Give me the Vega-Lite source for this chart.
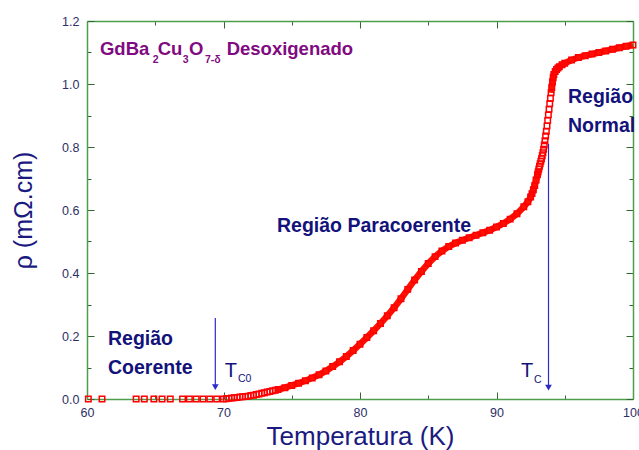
{
  "$schema": "https://vega.github.io/schema/vega-lite/v6.json",
  "width": 546,
  "height": 378,
  "autosize": "none",
  "padding": {"left": 87, "top": 21, "right": 6, "bottom": 51},
  "background": "white",
  "config": {"view": {"stroke": null}, "font": "Liberation Sans"},
  "datasets": {
    "curve": [
      {"T": 60.1, "rho": 0}, {"T": 61.1, "rho": 0}, {"T": 63.6, "rho": 0}, {"T": 64.2, "rho": 0},
      {"T": 64.9, "rho": 0}, {"T": 65.5, "rho": 0}, {"T": 66.1, "rho": 0}, {"T": 67.0, "rho": 0},
      {"T": 67.5, "rho": 0}, {"T": 68.0, "rho": 0}, {"T": 68.5, "rho": 0}, {"T": 69.0, "rho": 0},
      {"T": 69.5, "rho": 0}, {"T": 70.0, "rho": 0}, {"T": 70.2, "rho": 0.001}, {"T": 70.4, "rho": 0.002},
      {"T": 70.6, "rho": 0.003}, {"T": 70.8, "rho": 0.004}, {"T": 71.0, "rho": 0.005}, {"T": 71.2, "rho": 0.006},
      {"T": 71.4, "rho": 0.007}, {"T": 71.6, "rho": 0.008}, {"T": 71.8, "rho": 0.009}, {"T": 72.0, "rho": 0.011},
      {"T": 72.2, "rho": 0.012}, {"T": 72.4, "rho": 0.014}, {"T": 72.6, "rho": 0.016}, {"T": 72.8, "rho": 0.018},
      {"T": 73.0, "rho": 0.02}, {"T": 73.2, "rho": 0.022}, {"T": 73.4, "rho": 0.024}, {"T": 73.6, "rho": 0.026},
      {"T": 73.8, "rho": 0.028}, {"T": 74.0, "rho": 0.03}, {"T": 74.5, "rho": 0.036}, {"T": 75.0, "rho": 0.043},
      {"T": 75.5, "rho": 0.05}, {"T": 76.0, "rho": 0.058}, {"T": 76.5, "rho": 0.067}, {"T": 77.0, "rho": 0.077},
      {"T": 77.5, "rho": 0.089}, {"T": 78.0, "rho": 0.103}, {"T": 78.5, "rho": 0.118}, {"T": 79.0, "rho": 0.135},
      {"T": 79.5, "rho": 0.154}, {"T": 80.0, "rho": 0.174}, {"T": 80.5, "rho": 0.195}, {"T": 81.0, "rho": 0.217},
      {"T": 81.5, "rho": 0.24}, {"T": 82.0, "rho": 0.264}, {"T": 82.5, "rho": 0.29}, {"T": 83.0, "rho": 0.318},
      {"T": 83.5, "rho": 0.348}, {"T": 84.0, "rho": 0.378}, {"T": 84.5, "rho": 0.405}, {"T": 85.0, "rho": 0.43},
      {"T": 85.5, "rho": 0.452}, {"T": 86.0, "rho": 0.47}, {"T": 86.5, "rho": 0.484}, {"T": 87.0, "rho": 0.495},
      {"T": 87.5, "rho": 0.504}, {"T": 88.0, "rho": 0.512}, {"T": 88.5, "rho": 0.52}, {"T": 89.0, "rho": 0.528},
      {"T": 89.5, "rho": 0.536}, {"T": 90.0, "rho": 0.546}, {"T": 90.5, "rho": 0.557}, {"T": 91.0, "rho": 0.571},
      {"T": 91.5, "rho": 0.588}, {"T": 92.0, "rho": 0.61}, {"T": 92.3, "rho": 0.626}, {"T": 92.5, "rho": 0.641},
      {"T": 92.6, "rho": 0.652}, {"T": 92.7, "rho": 0.664}, {"T": 92.8, "rho": 0.678}, {"T": 92.9, "rho": 0.695},
      {"T": 93.0, "rho": 0.712}, {"T": 93.05, "rho": 0.721}, {"T": 93.1, "rho": 0.73}, {"T": 93.15, "rho": 0.739},
      {"T": 93.2, "rho": 0.747}, {"T": 93.25, "rho": 0.755}, {"T": 93.3, "rho": 0.763}, {"T": 93.35, "rho": 0.772},
      {"T": 93.4, "rho": 0.782}, {"T": 93.45, "rho": 0.793}, {"T": 93.5, "rho": 0.806}, {"T": 93.55, "rho": 0.82},
      {"T": 93.6, "rho": 0.835}, {"T": 93.65, "rho": 0.85}, {"T": 93.7, "rho": 0.867}, {"T": 93.75, "rho": 0.884},
      {"T": 93.8, "rho": 0.902}, {"T": 93.85, "rho": 0.92}, {"T": 93.9, "rho": 0.937}, {"T": 93.95, "rho": 0.955},
      {"T": 94.0, "rho": 0.972}, {"T": 94.05, "rho": 0.99}, {"T": 94.1, "rho": 1.006}, {"T": 94.15, "rho": 1.02},
      {"T": 94.2, "rho": 1.03}, {"T": 94.3, "rho": 1.04}, {"T": 94.4, "rho": 1.046}, {"T": 94.5, "rho": 1.051},
      {"T": 94.6, "rho": 1.055}, {"T": 94.8, "rho": 1.061}, {"T": 95.0, "rho": 1.066}, {"T": 95.5, "rho": 1.076},
      {"T": 96.0, "rho": 1.084}, {"T": 96.5, "rho": 1.09}, {"T": 97.0, "rho": 1.095}, {"T": 97.5, "rho": 1.1},
      {"T": 98.0, "rho": 1.105}, {"T": 98.5, "rho": 1.11}, {"T": 99.0, "rho": 1.115}, {"T": 99.5, "rho": 1.12},
      {"T": 100.0, "rho": 1.124}
    ],
    "regionLabels": [
      {"T": 61.54, "rho": 0.171, "text": "Região"},
      {"T": 61.54, "rho": 0.079, "text": "Coerente"},
      {"T": 73.92, "rho": 0.53, "text": "Região Paracoerente"},
      {"T": 95.24, "rho": 0.94, "text": "Região"},
      {"T": 95.24, "rho": 0.848, "text": "Normal"}
    ],
    "tBig": [
      {"T": 70.1, "rho": 0.07, "text": "T"},
      {"T": 91.8, "rho": 0.07, "text": "T"}
    ],
    "tSub": [
      {"T": 71.06, "rho": 0.054, "text": "C0"},
      {"T": 92.75, "rho": 0.051, "text": "C"}
    ],
    "formulaMain": [
      {"T": 60.95, "rho": 1.092, "text": "GdBa"},
      {"T": 65.18, "rho": 1.092, "text": "Cu"},
      {"T": 67.47, "rho": 1.092, "text": "O"},
      {"T": 70.23, "rho": 1.092, "text": "Desoxigenado"}
    ],
    "formulaSub": [
      {"T": 64.81, "rho": 1.067, "text": "2"},
      {"T": 67.01, "rho": 1.067, "text": "3"},
      {"T": 68.64, "rho": 1.067, "text": "7-δ"}
    ],
    "arrows": [
      {"T": 69.4, "rho": 0.257, "rho2": 0.035},
      {"T": 93.81, "rho": 0.81, "rho2": 0.035}
    ],
    "heads": [
      {"T": 69.4, "rho": 0.038},
      {"T": 93.81, "rho": 0.036}
    ]
  },
  "encoding": {
    "x": {
      "field": "T", "type": "quantitative",
      "scale": {"domain": [60, 100], "nice": false, "zero": false},
      "axis": {
        "orient": "bottom",
        "title": "Temperatura (K)",
        "values": [60, 65, 70, 75, 80, 85, 90, 95, 100],
        "format": "d",
        "labelExpr": "datum.value % 10 === 0 ? datum.label : ''",
        "labelFlush": false, "labelOverlap": false,
        "grid": false,
        "domainColor": "#4e9e4e", "domainWidth": 1.5,
        "tickColor": "#336633", "tickWidth": 1,
        "tickSize": {"condition": {"test": "datum.value % 10 === 0", "value": -7}, "value": -4},
        "labelFont": "Liberation Sans", "labelFontSize": 12.5, "labelColor": "#2e2e66", "labelPadding": 14,
        "titleFont": "Liberation Sans", "titleFontSize": 26, "titleFontWeight": "normal", "titleColor": "#1a1a80", "titlePadding": 2
      }
    },
    "y": {
      "field": "rho", "type": "quantitative",
      "scale": {"domain": [0, 1.2], "nice": false, "zero": false},
      "axis": {
        "orient": "left",
        "title": "ρ (mΩ.cm)",
        "values": [0, 0.1, 0.2, 0.3, 0.4, 0.5, 0.6, 0.7, 0.8, 0.9, 1.0, 1.1, 1.2],
        "format": ".1f",
        "labelExpr": "round(datum.value * 10) % 2 === 0 ? datum.label : ''",
        "labelFlush": false, "labelOverlap": false,
        "grid": false,
        "domainColor": "#4e9e4e", "domainWidth": 1.5,
        "tickColor": "#336633", "tickWidth": 1,
        "tickSize": {"condition": {"test": "round(datum.value * 10) % 2 === 0", "value": -7}, "value": -4},
        "labelFont": "Liberation Sans", "labelFontSize": 12.5, "labelColor": "#2e2e66", "labelPadding": 15,
        "titleFont": "Liberation Sans", "titleFontSize": 25, "titleFontWeight": "normal", "titleColor": "#1a1a80", "titlePadding": 25
      }
    }
  },
  "layer": [
    {
      "layer": [
        {
          "data": {"name": "curve"},
          "transform": [{"filter": "datum.T >= 73.8 && datum.T <= 93.1"}],
          "mark": {"type": "line", "color": "#ff1100", "strokeWidth": 6.5}
        },
        {
          "data": {"name": "curve"},
          "transform": [{"filter": "datum.T >= 94.0"}],
          "mark": {"type": "line", "color": "#ff1100", "strokeWidth": 6.5}
        },
        {
          "data": {"name": "curve"},
          "mark": {"type": "point", "shape": "square", "filled": false, "color": "#ff0000", "strokeWidth": 1.5, "size": 30, "opacity": 1}
        },
        {
          "data": {"name": "arrows"},
          "mark": {"type": "rule", "color": "#2b2bcc", "strokeWidth": 1.2},
          "encoding": {"y2": {"field": "rho2"}}
        },
        {
          "data": {"name": "heads"},
          "mark": {"type": "point", "shape": "triangle-down", "filled": true, "color": "#2b2bcc", "size": 45, "opacity": 1}
        },
        {
          "data": {"name": "regionLabels"},
          "mark": {"type": "text", "align": "left", "baseline": "alphabetic", "font": "Liberation Sans", "fontSize": 19.5, "fontWeight": "bold", "color": "#12127a"},
          "encoding": {"text": {"field": "text"}}
        },
        {
          "data": {"name": "tBig"},
          "mark": {"type": "text", "align": "left", "baseline": "alphabetic", "font": "Liberation Sans", "fontSize": 20, "color": "#12127a"},
          "encoding": {"text": {"field": "text"}}
        },
        {
          "data": {"name": "tSub"},
          "mark": {"type": "text", "align": "left", "baseline": "alphabetic", "font": "Liberation Sans", "fontSize": 10.5, "color": "#12127a"},
          "encoding": {"text": {"field": "text"}}
        },
        {
          "data": {"name": "formulaMain"},
          "mark": {"type": "text", "align": "left", "baseline": "alphabetic", "font": "Liberation Sans", "fontSize": 18.5, "fontWeight": "bold", "color": "#800a80"},
          "encoding": {"text": {"field": "text"}}
        },
        {
          "data": {"name": "formulaSub"},
          "mark": {"type": "text", "align": "left", "baseline": "alphabetic", "font": "Liberation Sans", "fontSize": 10.5, "fontWeight": "bold", "color": "#800a80"},
          "encoding": {"text": {"field": "text"}}
        }
      ]
    },
    {
      "data": {"name": "curve"},
      "mark": {"type": "point", "opacity": 0},
      "encoding": {
        "x": {
          "field": "T", "type": "quantitative",
          "scale": {"domain": [60, 100], "nice": false, "zero": false},
          "axis": {
            "orient": "top", "title": null, "labels": false, "grid": false,
            "values": [60, 65, 70, 75, 80, 85, 90, 95, 100],
            "domainColor": "#4e9e4e", "domainWidth": 1.5,
            "tickColor": "#336633", "tickWidth": 1,
            "tickSize": {"condition": {"test": "datum.value % 10 === 0", "value": -7}, "value": -4}
          }
        },
        "y": {
          "field": "rho", "type": "quantitative",
          "scale": {"domain": [0, 1.2], "nice": false, "zero": false},
          "axis": {
            "orient": "right", "title": null, "labels": false, "grid": false,
            "values": [0, 0.1, 0.2, 0.3, 0.4, 0.5, 0.6, 0.7, 0.8, 0.9, 1.0, 1.1, 1.2],
            "domainColor": "#4e9e4e", "domainWidth": 1.5,
            "tickColor": "#336633", "tickWidth": 1,
            "tickSize": {"condition": {"test": "round(datum.value * 10) % 2 === 0", "value": -7}, "value": -4}
          }
        }
      }
    }
  ],
  "resolve": {"axis": {"x": "independent", "y": "independent"}}
}
